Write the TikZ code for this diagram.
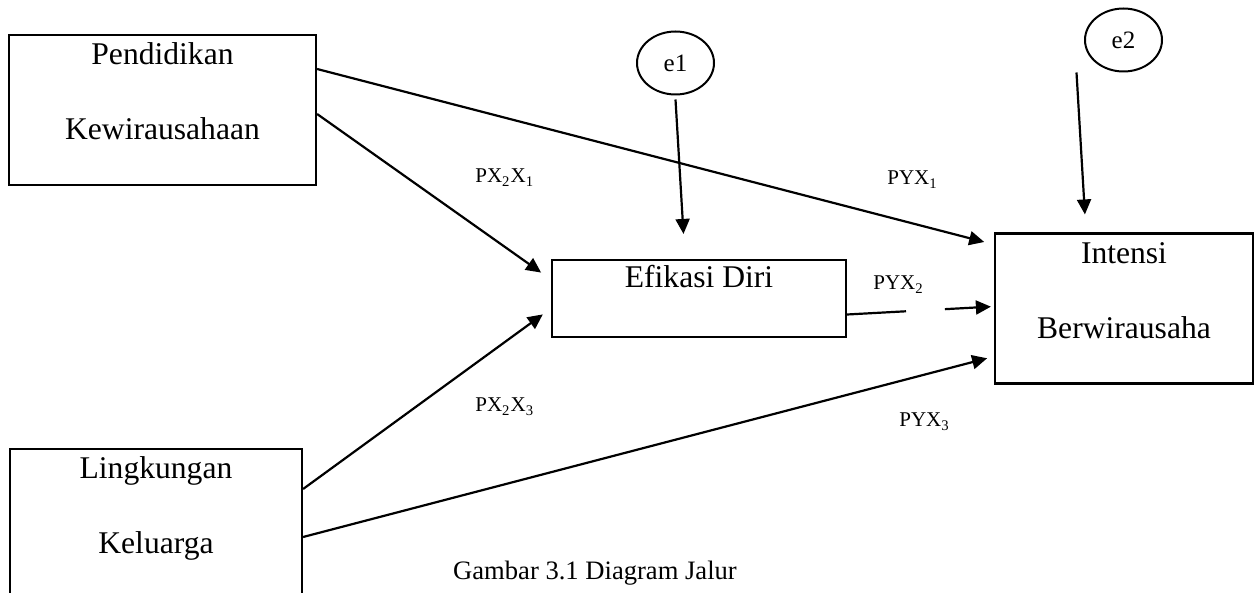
\documentclass[tikz,border=0pt]{standalone}
\usepackage{fontspec}
\setmainfont{Liberation Serif}
\usetikzlibrary{arrows.meta}
\usetikzlibrary{shapes.geometric}
\tikzset{
  var box/.style={
    draw,
    rectangle,
    line width=1.1pt,
    inner sep=3pt,
    font=\fontsize{15.8}{37.5}\selectfont,
    text height=12pt
  },
  var box2/.style={
    var box,
    text width=110pt,
    align=center,
    text depth=57pt,
    minimum height=75pt
  },
  error node/.style={
    draw,
    ellipse,
    line width=1pt,
    inner sep=1pt,
    minimum width=38.5pt,
    minimum height=31.5pt,
    font=\fontsize{12.5}{15}\selectfont
  },
  path arrow/.style={
    draw,
    line width=1.1pt,
    -{Triangle[length=7.5pt,width=7pt]}
  },
  coef label/.style={
    anchor=base west,
    inner sep=0pt,
    font=\fontsize{10.5}{12}\selectfont
  },
}

\begin{document}
\begin{tikzpicture}[x=0.5pt, y=-0.5pt]
  \useasboundingbox (0,0) rectangle (1260,593);
  % variables
  \node[var box2, minimum width=153.5pt] (pend) at (162.5,110) {Pendidikan\\Kewirausahaan};
  \node[var box2, minimum width=146pt] (ling) at (156,524) {Lingkungan\\Keluarga};
  \node[var box, minimum width=147pt, minimum height=38.5pt,
        text height=11pt, text depth=21.5pt] (efik) at (699,298.5) {Efikasi Diri};
  \node[var box2, minimum width=129pt] (intensi) at (1124,308.5) {Intensi\\Berwirausaha};
  % error terms
  \node[error node] (e1) at (675.5,63) {e1};
  \node[error node] (e2) at (1123.5,40) {e2};
  % paths
  \draw[path arrow, shorten >=5pt] ([yshift=20.5pt]pend.east) -- ([yshift=32pt]intensi.west);
  \draw[path arrow, shorten >=6pt] ([yshift=-2pt]pend.east) -- ([yshift=9.5pt]efik.west);
  \draw[path arrow, shorten >=5pt] ([yshift=17.5pt]ling.east) -- ([yshift=-5pt]efik.west);
  \draw[path arrow, shorten >=3.5pt] ([yshift=-6.5pt]ling.east) -- ([yshift=-24pt]intensi.west);
  \draw[path arrow, shorten >=1.5pt, dash pattern=on 29.5pt off 19.5pt on 100pt off 10pt]
    ([yshift=-8pt]efik.east) -- ([yshift=1pt]intensi.west);
  \draw[path arrow, shorten >=12.5pt] ([yshift=-2pt]e1.south) -- ([xshift=-7pt]efik.north);
  \draw[path arrow, shorten >=9pt] ([xshift=-23.5pt]e2.south) -- ([xshift=-19pt]intensi.north);
  % coefficients
  \node[coef label] (px2x1) at (475,183) {PX\textsubscript{2}X\textsubscript{1}};
  \node[coef label] (px2x3) at (475,412) {PX\textsubscript{2}X\textsubscript{3}};
  \node[coef label] (pyx1) at (887,185) {PYX\textsubscript{1}};
  \node[coef label] (pyx2) at (873,290) {PYX\textsubscript{2}};
  \node[coef label] (pyx3) at (899,427) {PYX\textsubscript{3}};
  % caption
  \node[font=\fontsize{13.3}{16}\selectfont, anchor=base] (caption) at (595,580) {Gambar 3.1 Diagram Jalur};
\end{tikzpicture}
\end{document}
